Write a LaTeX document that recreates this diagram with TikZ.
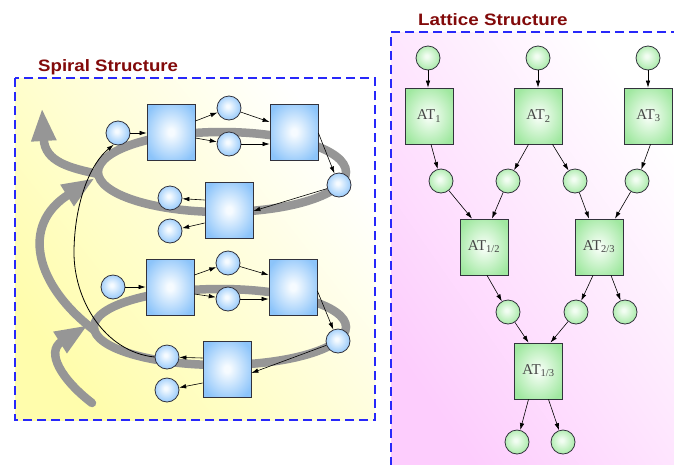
\documentclass[tikz,border=0pt]{standalone}
\usepackage{fontspec}
\setmainfont{Liberation Serif}
\setsansfont{Liberation Sans}
\usetikzlibrary{arrows.meta}

\definecolor{titlered}{RGB}{130,10,10}
\definecolor{dashblue}{RGB}{40,40,250}
\definecolor{bandgray}{RGB}{150,150,150}
\definecolor{edgegray}{RGB}{50,50,60}
\definecolor{yelB}{RGB}{255,253,172}
\definecolor{pinkB}{RGB}{253,205,253}
\definecolor{blueC}{RGB}{246,251,255}
\definecolor{blueE}{RGB}{140,196,250}
\definecolor{greenC}{RGB}{242,253,242}
\definecolor{greenE}{RGB}{160,232,160}
\definecolor{attext}{RGB}{70,70,70}

\pgfdeclareradialshading{bluebox}{\pgfpoint{0bp}{0bp}}{color(0bp)=(blueC); color(3bp)=(blueC); color(30bp)=(blueE); color(50bp)=(blueE)}
\pgfdeclareradialshading{bluedot}{\pgfpoint{-3bp}{4bp}}{color(0bp)=(blueC); color(3bp)=(blueC); color(30bp)=(blueE); color(50bp)=(blueE)}
\pgfdeclareradialshading{greenbox}{\pgfpoint{0bp}{0bp}}{color(0bp)=(greenC); color(3bp)=(greenC); color(30bp)=(greenE); color(50bp)=(greenE)}
\pgfdeclareradialshading{greendot}{\pgfpoint{-3bp}{4bp}}{color(0bp)=(greenC); color(3bp)=(greenC); color(30bp)=(greenE); color(50bp)=(greenE)}

\begin{document}
\begin{tikzpicture}[x=1pt,y=-1pt,
  band/.style={line width=8.5pt, draw=bandgray, line cap=round},
  bandarr/.style={band, -{Triangle[length=33pt,width=23pt]}},
  arr/.style={draw=black, line width=0.6pt, -{Latex[length=7pt,width=4.5pt]}},
  bcirc/.style={circle, draw=edgegray, line width=0.8pt, minimum size=24pt, inner sep=0pt, shading=bluedot},
  bsq/.style={rectangle, draw=edgegray, line width=0.8pt, minimum width=48pt, minimum height=56pt, inner sep=0pt, shading=bluebox},
  gcirc/.style={circle, draw=edgegray, line width=0.8pt, minimum size=24pt, inner sep=0pt, shading=greendot},
  gsq/.style={rectangle, draw=edgegray, line width=0.8pt, minimum width=48pt, minimum height=56pt, inner sep=0pt, shading=greenbox,
    font=\fontsize{15}{18}\selectfont, text=attext},
  paneltitle/.style={anchor=base west, inner sep=0pt, text=titlered,
    font=\sffamily\bfseries\fontsize{16.5}{20}\selectfont},
  panelframe/.style={draw=dashblue, line width=1.3pt, dash pattern=on 9pt off 5pt}
]
\useasboundingbox (0,0) rectangle (674,464);
\clip (0,0) rectangle (674,464);
\fill[white] (0,0) rectangle (674,464);

% ---------- panel backgrounds and frames ----------
\shade[top color=white, bottom color=yelB, shading angle=-52] (15,78) rectangle (375,420);
\draw[panelframe] (15,78) rectangle (375,420);
\shade[top color=white, bottom color=pinkB, shading angle=-55] (391,32) rectangle (674,464);
\draw[panelframe] (680,32) -- (391,32) -- (391,470);

\node[paneltitle] (spiraltitle) at (38,71.5) {\scalebox{1.13}[1]{Spiral Structure}};
\node[paneltitle] (latticetitle) at (418,25.5) {\scalebox{1.14}[1]{Lattice Structure}};

% ---------- the rising spiral band ----------
\draw[band] (220,327) ellipse [x radius=126, y radius=38];
\draw[band] (222,172) ellipse [x radius=124, y radius=40];
\draw[bandarr] (92,403) .. controls (62,380) and (45,352) .. (88,325);
\draw[bandarr] (94,330) .. controls (35,285) and (20,225) .. (95,178);
\draw[bandarr] (98,174) .. controls (70,168) and (45,162) .. (42,108);

% ---------- upper loop ----------
\node[bcirc] (a1) at (118,133) {};
\node[bsq]   (s1) at (171,132) {};
\node[bcirc] (b1) at (229,108) {};
\node[bcirc] (c1) at (229,144) {};
\node[bsq]   (s2) at (294,132) {};
\node[bcirc] (d1) at (339,185) {};
\node[bsq]   (s3) at (229,210) {};
\node[bcirc] (e1) at (170,198) {};
\node[bcirc] (f1) at (170,231) {};

\draw[arr] (a1) -- (s1.west |- a1);
\draw[arr] ([yshift=11pt]s1.east) -- (b1);
\draw[arr] ([yshift=-6pt]s1.east) -- (c1);
\draw[arr] (b1) -- ([yshift=10pt]s2.west);
\draw[arr] (c1) -- (s2.west |- c1);
\draw[arr] ([yshift=-1pt]s2.east) -- (d1);
\draw[arr] (d1) -- ([yshift=-1pt]s3.east);
\draw[arr] ([yshift=10pt]s3.west) -- (e1);
\draw[arr] ([yshift=-13pt]s3.west) -- (f1);

% ---------- lower loop ----------
\node[bcirc] (a2) at (113,287) {};
\node[bsq]   (s4) at (170,287) {};
\node[bcirc] (b2) at (228,263) {};
\node[bcirc] (c2) at (228,299) {};
\node[bsq]   (s5) at (293,287) {};
\node[bcirc] (d2) at (338,341) {};
\node[bsq]   (s6) at (227,369) {};
\node[bcirc] (e2) at (167,357) {};
\node[bcirc] (f2) at (167,390) {};

\draw[arr] (a2) -- (s4.west |- a2);
\draw[arr] ([yshift=12pt]s4.east) -- (b2);
\draw[arr] ([yshift=-7pt]s4.east) -- (c2);
\draw[arr] (b2) -- ([yshift=12pt]s5.west);
\draw[arr] (c2) -- (s5.west |- c2);
\draw[arr] ([yshift=-4pt]s5.east) -- (d2);
\draw[arr] (d2) -- ([yshift=-4pt]s6.east);
\draw[arr] ([yshift=11pt]s6.west) -- (e2);
\draw[arr] ([yshift=-14pt]s6.west) -- (f2);

% feedback from the lower loop to the upper loop
\draw[arr, line width=0.8pt] (e2.west) .. controls (105,352) and (73,300) .. (74,250)
  .. controls (75,200) and (91,163) .. (a1.250);

% ---------- lattice ----------
\node[gcirc] (t1) at (428,58) {};
\node[gcirc] (t2) at (538,58) {};
\node[gcirc] (t3) at (648,58) {};
\node[gsq] (at1) at (429,116) {AT\textsubscript{1}};
\node[gsq] (at2) at (538.5,116) {AT\textsubscript{2}};
\node[gsq] (at3) at (648.5,116) {AT\textsubscript{3}};
\node[gcirc] (m1) at (441,181) {};
\node[gcirc] (m2) at (508,181) {};
\node[gcirc] (m3) at (575,181) {};
\node[gcirc] (m4) at (637,181) {};
\node[gsq] (at12) at (484,247) {AT\textsubscript{1/2}};
\node[gsq] (at23) at (599,247) {AT\textsubscript{2/3}};
\node[gcirc] (r1) at (508,312) {};
\node[gcirc] (r2) at (576,312) {};
\node[gcirc] (r3) at (625,312) {};
\node[gsq] (at13) at (538.5,371) {AT\textsubscript{1/3}};
\node[gcirc] (u1) at (517,442) {};
\node[gcirc] (u2) at (563,442) {};

\draw[arr] (t1) -- (at1.north -| t1);
\draw[arr] (t2) -- (at2.north -| t2);
\draw[arr] (t3) -- (at3.north -| t3);
\draw[arr] ([xshift=2pt]at1.south) -- (m1);
\draw[arr] ([xshift=-10pt]at2.south) -- (m2);
\draw[arr] ([xshift=14pt]at2.south) -- (m3);
\draw[arr] ([xshift=2pt]at3.south) -- (m4);
\draw[arr] (m1) -- ([xshift=-12pt]at12.north);
\draw[arr] (m2) -- ([xshift=8pt]at12.north);
\draw[arr] (m3) -- ([xshift=-10pt]at23.north);
\draw[arr] (m4) -- ([xshift=16pt]at23.north);
\draw[arr] ([xshift=3pt]at12.south) -- (r1);
\draw[arr] ([xshift=-6pt]at23.south) -- (r2);
\draw[arr] ([xshift=12pt]at23.south) -- (r3);
\draw[arr] (r1) -- ([xshift=-10pt]at13.north);
\draw[arr] (r2) -- ([xshift=12pt]at13.north);
\draw[arr] ([xshift=-10pt]at13.south) -- (u1);
\draw[arr] ([xshift=10pt]at13.south) -- (u2);
\end{tikzpicture}
\end{document}
